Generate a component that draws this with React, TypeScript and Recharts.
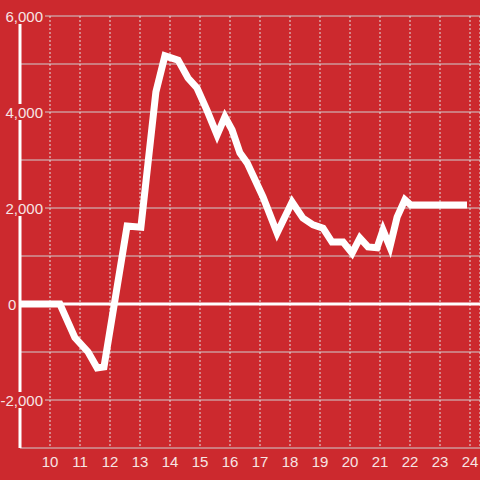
import React from 'react';
import {
  LineChart,
  Line,
  XAxis,
  YAxis,
  CartesianGrid,
  ReferenceLine
} from 'recharts';

// hour of day / running value
const hours = [
  9.0, 10.33, 10.83, 11.27, 11.57, 11.8, 12.57, 13.03, 13.53, 13.83, 14.27, 14.6,
  14.9, 15.23, 15.57, 15.83, 16.07, 16.33, 16.57, 17.1, 17.57, 18.07, 18.43, 18.77,
  19.1, 19.4, 19.77, 20.07, 20.33, 20.6, 20.9, 21.1, 21.33, 21.57, 21.83, 22.03, 23.9
];
const values = [
  0, 0, -700, -1000, -1330, -1310, 1625, 1600, 4420, 5170, 5080, 4708,
  4500, 4040, 3520, 3900, 3625, 3150, 2940, 2230, 1480, 2125, 1790, 1650,
  1580, 1290, 1290, 1060, 1375, 1190, 1170, 1540, 1190, 1810, 2170, 2060, 2060
];

const xTicks = [10, 11, 12, 13, 14, 15, 16, 17, 18, 19, 20, 21, 22, 23, 24];
const yTicks = [-3000, -2000, -1000, 0, 1000, 2000, 3000, 4000, 5000, 6000];
const yLabelled = [-2000, 0, 2000, 4000, 6000];

const BG = '#cc292e';
const TEXT = '#f7e4e4';
const FONT = '"Liberation Sans", Arial, sans-serif';

const data = hours.map((h, i) => ({ h, v: values[i] }));

const YTick = (props: any) => {
  const { y, payload } = props;
  const v = payload.value;
  if (!yLabelled.includes(v)) return null;
  const label = v.toLocaleString('en-US');
  if (v === 0) {
    return (
      <g>
        <rect x={4} y={y - 8} width={13} height={16} fill={BG} />
        <text x={8} y={y + 6} fill={TEXT} fontSize={15} fontFamily={FONT} textAnchor="start">
          {label}
        </text>
      </g>
    );
  }
  return (
    <g>
      <rect x={0} y={y - 8} width={45} height={16} fill={BG} />
      <text x={43} y={y + 6} fill={TEXT} fontSize={15} fontFamily={FONT} textAnchor="end">
        {label}
      </text>
    </g>
  );
};

export default function App() {
  return (
    <div style={{ position: 'absolute', left: 0, top: 0, width: 480, height: 480, background: BG }}>
      <LineChart width={480} height={480} data={data} margin={{ top: 16, right: 0, bottom: 0, left: 0 }}>
        <CartesianGrid vertical={false} stroke="#cfcfcf" strokeWidth={1} />
        <CartesianGrid horizontal={false} stroke="#e2e2e2" strokeDasharray="2 2" strokeWidth={1} />
        <XAxis
          dataKey="h"
          type="number"
          domain={[9, 24.333]}
          ticks={xTicks}
          interval={0}
          height={32}
          axisLine={false}
          tickLine={false}
          tick={{ fill: TEXT, fontSize: 15, fontFamily: FONT }}
        />
        <YAxis
          type="number"
          domain={[-3000, 6000]}
          ticks={yTicks}
          interval={0}
          width={20}
          axisLine={{ stroke: '#ffffff', strokeWidth: 3 }}
          tickLine={false}
          tick={<YTick />}
        />
        <ReferenceLine y={0} stroke="#ffffff" strokeWidth={3} />
        <Line
          dataKey="v"
          type="linear"
          stroke="#ffffff"
          strokeWidth={7}
          dot={false}
          activeDot={false}
          isAnimationActive={false}
        />
      </LineChart>
    </div>
  );
}
